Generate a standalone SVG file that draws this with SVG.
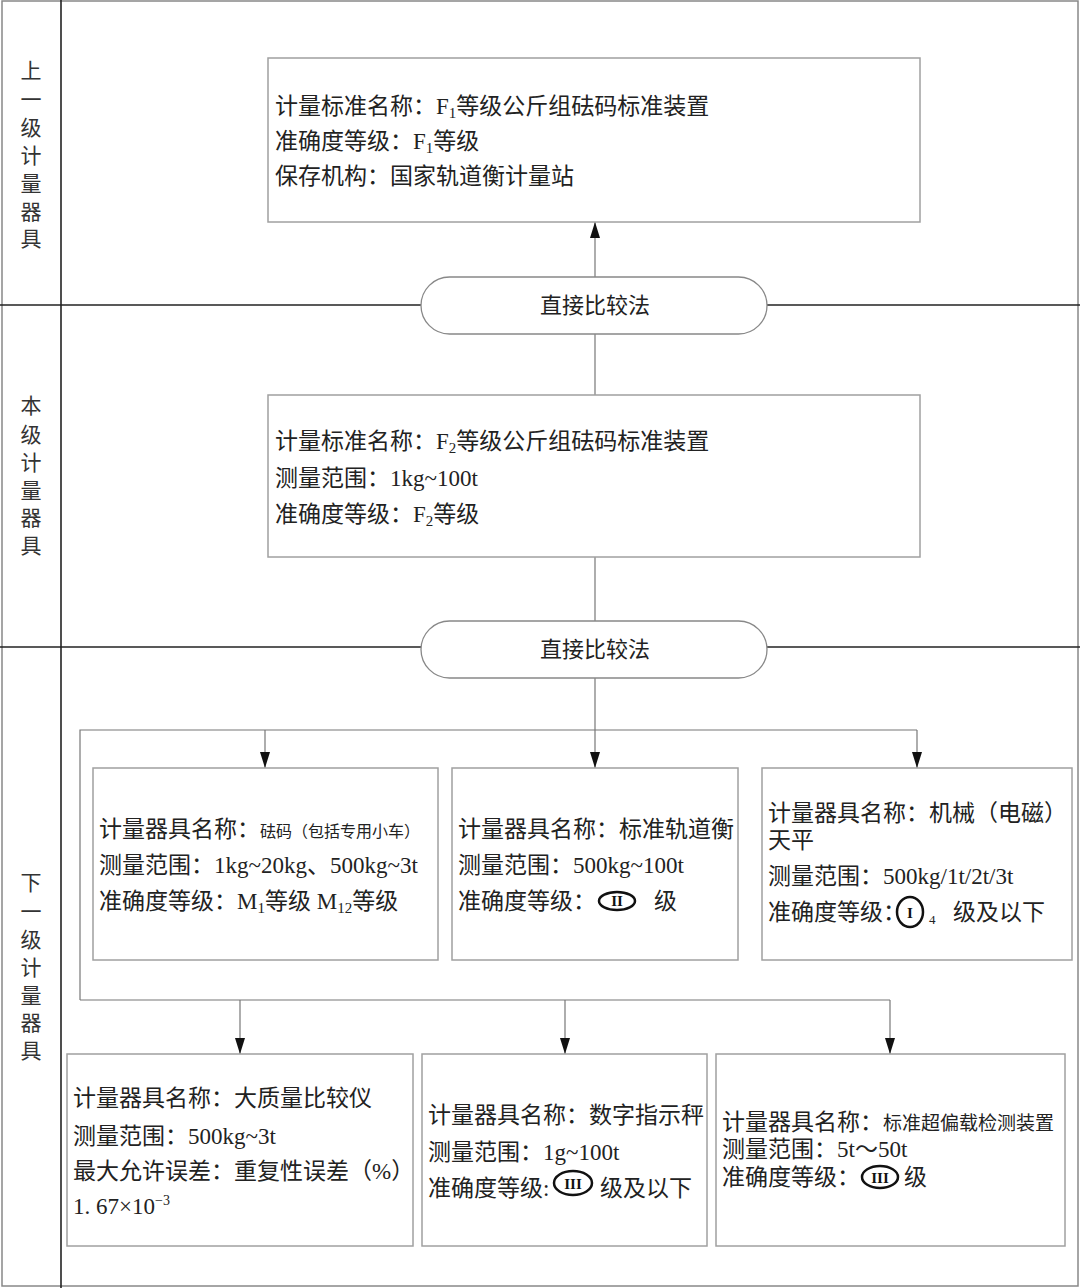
<svg xmlns="http://www.w3.org/2000/svg" width="1080" height="1288" viewBox="0 0 1080 1288">
<style>
text{font-family:"Liberation Serif","Noto Sans CJK SC",serif;fill:#222;}
.t{font-size:23px;}
.lab{font-size:21px;text-anchor:middle;fill:#333;}
.box{fill:#fff;stroke:#a0a0a0;stroke-width:1.5;}
.cap{fill:#fff;stroke:#888;stroke-width:1.3;}
.sec{stroke:#222;stroke-width:1.6;fill:none;}
.con{stroke:#777;stroke-width:1.2;fill:none;}
.arr{stroke:#777;stroke-width:1.2;fill:none;marker-end:url(#ah);}
.sym{fill:none;stroke:#111;stroke-width:2.5;}
.symt{font-size:15px;font-weight:bold;text-anchor:middle;fill:#111;}
</style>
<defs>
<marker id="ah" markerUnits="userSpaceOnUse" markerWidth="16" markerHeight="10" refX="16" refY="5" orient="auto">
<path d="M0,0 L16,5 L0,10 z" fill="#111"/>
</marker>
</defs>
<rect width="1080" height="1288" fill="#fff"/>
<g id="frame">
<rect x="2" y="1" width="1076" height="1285" fill="none" stroke="#888" stroke-width="1.5"/>
<line class="sec" x1="61" y1="0" x2="61" y2="1288"/>
<line class="sec" x1="0" y1="305" x2="421" y2="305"/>
<line class="sec" x1="767" y1="305" x2="1080" y2="305"/>
<line class="sec" x1="0" y1="647" x2="421" y2="647"/>
<line class="sec" x1="767" y1="647" x2="1080" y2="647"/>
</g>
<g id="labels">
<text class="lab" x="31" y="78">上</text>
<text class="lab" x="31" y="107">一</text>
<text class="lab" x="31" y="135">级</text>
<text class="lab" x="31" y="163">计</text>
<text class="lab" x="31" y="191">量</text>
<text class="lab" x="31" y="219">器</text>
<text class="lab" x="31" y="246">具</text>
<text class="lab" x="31" y="413">本</text>
<text class="lab" x="31" y="442">级</text>
<text class="lab" x="31" y="470">计</text>
<text class="lab" x="31" y="498">量</text>
<text class="lab" x="31" y="525">器</text>
<text class="lab" x="31" y="553">具</text>
<text class="lab" x="31" y="890">下</text>
<text class="lab" x="31" y="919">一</text>
<text class="lab" x="31" y="947">级</text>
<text class="lab" x="31" y="975">计</text>
<text class="lab" x="31" y="1003">量</text>
<text class="lab" x="31" y="1030">器</text>
<text class="lab" x="31" y="1058">具</text>
</g>
<g id="connectors">
<line class="arr" x1="595" y1="277" x2="595" y2="222"/>
<line class="con" x1="595" y1="334" x2="595" y2="395"/>
<line class="con" x1="595" y1="557" x2="595" y2="621"/>
<line class="arr" x1="595" y1="678" x2="595" y2="768"/>
<polyline class="con" points="80,1000 80,730 917,730"/>
<line class="arr" x1="265" y1="730" x2="265" y2="768"/>
<line class="arr" x1="917" y1="730" x2="917" y2="768"/>
<line class="con" x1="80" y1="1000" x2="890" y2="1000"/>
<line class="arr" x1="240" y1="1000" x2="240" y2="1054"/>
<line class="arr" x1="565" y1="1000" x2="565" y2="1054"/>
<line class="arr" x1="890" y1="1000" x2="890" y2="1054"/>
</g>
<g id="upper">
<rect class="box" x="268" y="58" width="652" height="164"/>
<text class="t" x="275" y="114">计量标准名称：F<tspan font-size="15" dy="4">1</tspan><tspan dy="-4">等级公斤组砝码标准装置</tspan></text>
<text class="t" x="275" y="149">准确度等级：F<tspan font-size="15" dy="4">1</tspan><tspan dy="-4">等级</tspan></text>
<text class="t" x="275" y="184">保存机构：国家轨道衡计量站</text>
</g>
<g id="method1">
<rect class="cap" x="421" y="277" width="346" height="57" rx="28.5"/>
<text x="595" y="313" font-size="22" text-anchor="middle">直接比较法</text>
</g>
<g id="current">
<rect class="box" x="268" y="395" width="652" height="162"/>
<text class="t" x="275" y="449">计量标准名称：F<tspan font-size="15" dy="4">2</tspan><tspan dy="-4">等级公斤组砝码标准装置</tspan></text>
<text class="t" x="275" y="486">测量范围：1kg~100t</text>
<text class="t" x="275" y="522">准确度等级：F<tspan font-size="15" dy="4">2</tspan><tspan dy="-4">等级</tspan></text>
</g>
<g id="method2">
<rect class="cap" x="421" y="621" width="346" height="57" rx="28.5"/>
<text x="595" y="657" font-size="22" text-anchor="middle">直接比较法</text>
</g>
<g id="weights">
<rect class="box" x="93" y="768" width="345" height="192"/>
<text class="t" x="99" y="837">计量器具名称：<tspan font-size="16">砝码（包括专用小车）</tspan></text>
<text class="t" x="99" y="873">测量范围：1kg~20kg、500kg~3t</text>
<text class="t" x="99" y="909">准确度等级：M<tspan font-size="15" dy="4">1</tspan><tspan dy="-4">等级 M</tspan><tspan font-size="15" dy="4">12</tspan><tspan dy="-4">等级</tspan></text>
</g>
<g id="trackscale">
<rect class="box" x="452" y="768" width="286" height="192"/>
<text class="t" x="458" y="837">计量器具名称：标准轨道衡</text>
<text class="t" x="458" y="873">测量范围：500kg~100t</text>
<text class="t" x="458" y="909">准确度等级：</text>
<ellipse class="sym" cx="617" cy="901" rx="18" ry="9"/>
<text class="symt" x="617" y="906">II</text>
<text class="t" x="654" y="909">级</text>
</g>
<g id="balance">
<rect class="box" x="762" y="768" width="310" height="192"/>
<text class="t" x="768" y="821">计量器具名称：机械（电磁）</text>
<text class="t" x="768" y="848">天平</text>
<text class="t" x="768" y="884">测量范围：500kg/1t/2t/3t</text>
<text class="t" x="768" y="920">准确度等级：</text>
<ellipse class="sym" cx="910" cy="912" rx="13" ry="15" stroke-width="2"/>
<text class="symt" x="910" y="918" font-size="17" font-weight="normal">I</text>
<text x="929" y="924" font-size="13">4</text>
<text class="t" x="953" y="920">级及以下</text>
</g>
<g id="comparator">
<rect class="box" x="67" y="1054" width="346" height="192"/>
<text class="t" x="73" y="1106">计量器具名称：大质量比较仪</text>
<text class="t" x="73" y="1144">测量范围：500kg~3t</text>
<text class="t" x="73" y="1179">最大允许误差：重复性误差（%）</text>
<text class="t" x="73" y="1214">1. 67×10<tspan font-size="14" dy="-9">−3</tspan></text>
</g>
<g id="digitalscale">
<rect class="box" x="422" y="1054" width="285" height="192"/>
<text class="t" x="428" y="1123">计量器具名称：数字指示秤</text>
<text class="t" x="428" y="1160">测量范围：1g~100t</text>
<text class="t" x="428" y="1196">准确度等级:</text>
<ellipse class="sym" cx="573" cy="1183" rx="19" ry="12"/>
<text class="symt" x="573" y="1189" font-size="17">III</text>
<text class="t" x="600" y="1196">级及以下</text>
</g>
<g id="eccentric">
<rect class="box" x="716" y="1054" width="349" height="192"/>
<text class="t" x="722" y="1130">计量器具名称：<tspan font-size="19">标准超偏载检测装置</tspan></text>
<text class="t" x="722" y="1157">测量范围：5t～50t</text>
<text class="t" x="722" y="1185">准确度等级：</text>
<ellipse class="sym" cx="880" cy="1177" rx="18" ry="11"/>
<text class="symt" x="880" y="1183" font-size="16">III</text>
<text class="t" x="904" y="1185">级</text>
</g>
</svg>
